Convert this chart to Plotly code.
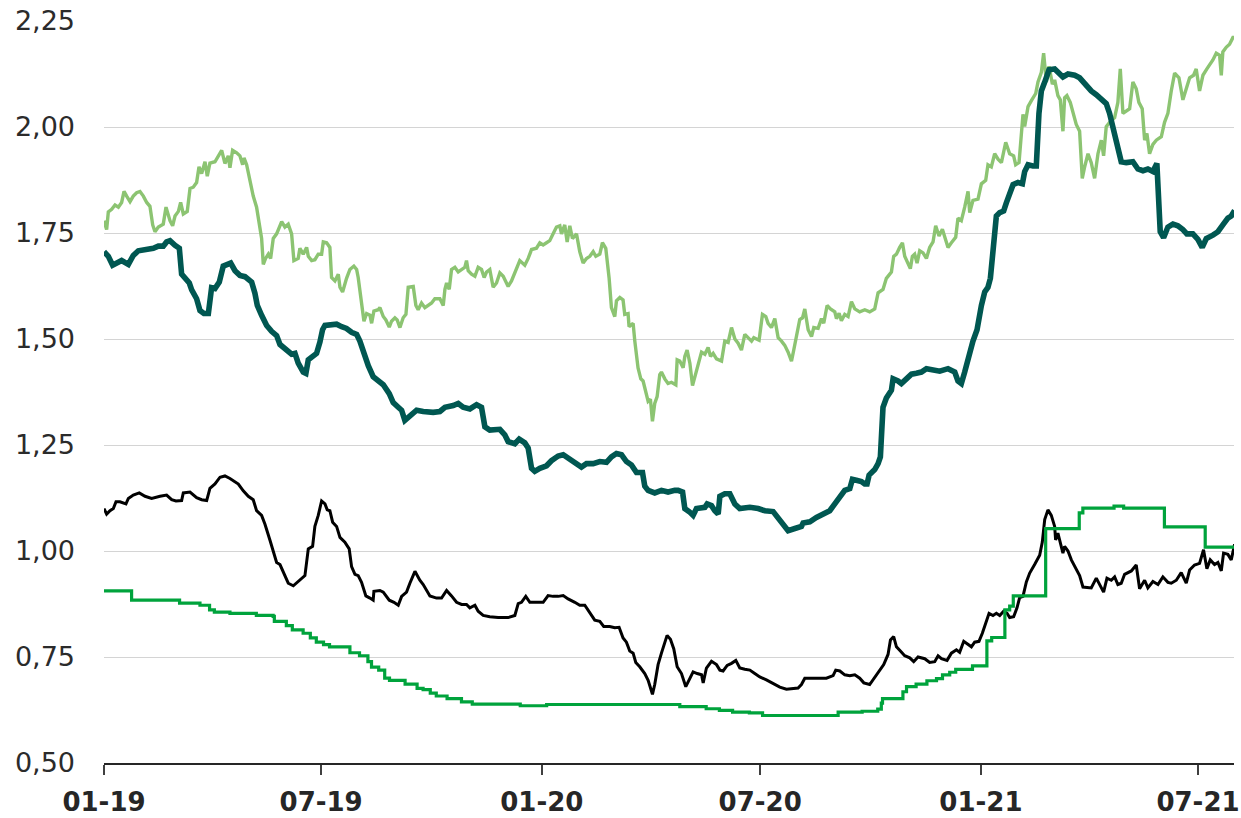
import pandas as pd
import plotly.graph_objects as go

START = pd.Timestamp("2019-01-01")

# (days since 01-01-2019, value)
light_green = [
    (0, 1.779), (2.2, 1.758), (3.6, 1.800), (6.4, 1.806), (9.2, 1.816), (12.0, 1.811),
    (14.7, 1.822), (16.7, 1.848), (18.9, 1.837), (21.7, 1.824), (24.4, 1.837), (27.2, 1.845),
    (30.0, 1.848), (32.8, 1.837), (35.6, 1.822), (38.3, 1.813), (40.6, 1.769), (42.5, 1.753),
    (45.3, 1.764), (49.4, 1.771), (51.7, 1.811), (55.0, 1.779), (57.2, 1.767), (59.2, 1.790),
    (62.0, 1.801), (63.9, 1.822), (66.1, 1.795), (69.4, 1.801), (71.7, 1.855), (74.4, 1.858),
    (77.2, 1.869), (79.2, 1.906), (81.4, 1.890), (84.2, 1.918), (86.1, 1.884), (88.3, 1.915),
    (92.5, 1.918), (95.3, 1.932), (98.1, 1.945), (100.8, 1.914), (103.6, 1.932), (105.0, 1.904),
    (107.2, 1.945), (110.6, 1.939), (113.3, 1.932), (115.6, 1.911), (116.7, 1.927), (118.9, 1.911),
    (121.1, 1.879), (124.4, 1.837), (127.2, 1.811), (129.4, 1.769), (131.4, 1.737), (132.8, 1.676),
    (134.7, 1.690), (137.0, 1.700), (138.9, 1.690), (141.1, 1.737), (143.9, 1.748), (148.1, 1.777),
    (150.8, 1.764), (153.6, 1.771), (156.4, 1.748), (158.3, 1.685), (161.9, 1.690), (163.3, 1.714),
    (166.1, 1.700), (168.9, 1.716), (170.3, 1.695), (173.1, 1.685), (175.8, 1.687), (178.6, 1.700),
    (181.4, 1.700), (182.8, 1.729), (185.6, 1.727), (188.3, 1.716), (189.7, 1.645), (192.5, 1.637),
    (195.3, 1.653), (196.7, 1.622), (198.9, 1.611), (202.2, 1.643), (205.0, 1.664), (208.3, 1.672),
    (210.6, 1.664), (211.9, 1.645), (214.7, 1.579), (216.7, 1.542), (218.9, 1.560), (221.7, 1.556),
    (223.1, 1.537), (225.0, 1.566), (228.6, 1.569), (230.0, 1.574), (232.8, 1.553), (235.0, 1.545),
    (237.8, 1.528), (239.7, 1.542), (242.5, 1.550), (244.4, 1.545), (246.7, 1.527), (249.4, 1.550),
    (251.7, 1.558), (253.6, 1.622), (257.8, 1.624), (260.0, 1.579), (261.9, 1.569), (264.7, 1.585),
    (267.5, 1.574), (270.3, 1.579), (273.1, 1.585), (275.8, 1.595), (280.0, 1.595), (282.8, 1.579),
    (284.2, 1.617), (285.6, 1.632), (287.8, 1.617), (289.7, 1.664), (292.5, 1.669), (295.3, 1.658),
    (298.1, 1.664), (300.8, 1.669), (302.2, 1.685), (303.6, 1.661), (306.4, 1.653), (309.2, 1.648),
    (311.9, 1.669), (314.7, 1.664), (316.9, 1.645), (318.9, 1.658), (321.6, 1.664), (324.4, 1.622),
    (327.2, 1.632), (330.0, 1.656), (332.8, 1.648), (336.9, 1.624), (339.7, 1.637), (342.5, 1.658),
    (345.3, 1.674), (346.6, 1.685), (350.8, 1.674), (353.6, 1.690), (356.4, 1.711), (360.5, 1.714),
    (363.3, 1.727), (366.1, 1.722), (368.9, 1.727), (371.6, 1.732), (374.4, 1.748), (377.2, 1.764),
    (380.0, 1.767), (381.4, 1.748), (384.1, 1.769), (386.1, 1.729), (388.3, 1.767), (390.5, 1.737),
    (393.9, 1.748), (396.6, 1.706), (399.4, 1.679), (402.2, 1.690), (405.0, 1.695), (407.8, 1.706),
    (410.0, 1.695), (413.3, 1.700), (415.5, 1.727), (418.3, 1.714), (421.1, 1.643), (423.0, 1.574),
    (425.8, 1.553), (427.2, 1.590), (430.0, 1.598), (432.7, 1.592), (434.1, 1.558), (436.9, 1.560),
    (437.7, 1.529), (441.1, 1.537), (442.5, 1.495), (445.2, 1.432), (447.5, 1.406), (449.4, 1.401),
    (450.8, 1.385), (453.6, 1.353), (455.5, 1.358), (457.2, 1.306), (459.1, 1.348), (461.1, 1.364),
    (463.3, 1.416), (464.7, 1.422), (467.5, 1.406), (470.2, 1.395), (473.0, 1.398), (476.7, 1.392),
    (477.8, 1.451), (480.0, 1.448), (482.8, 1.432), (484.2, 1.459), (486.1, 1.474), (488.4, 1.443),
    (490.6, 1.390), (492.5, 1.411), (495.3, 1.437), (498.1, 1.469), (500.9, 1.464), (503.6, 1.480),
    (505.6, 1.459), (507.8, 1.466), (510.6, 1.453), (514.8, 1.448), (517.5, 1.495), (520.3, 1.492),
    (523.1, 1.527), (525.9, 1.500), (528.6, 1.490), (531.4, 1.474), (534.2, 1.511), (537.0, 1.503),
    (539.8, 1.495), (541.7, 1.503), (546.1, 1.497), (548.9, 1.558), (551.7, 1.553), (553.6, 1.537),
    (556.4, 1.527), (559.2, 1.548), (562.0, 1.503), (564.8, 1.495), (567.5, 1.485), (570.3, 1.469),
    (573.1, 1.448), (575.0, 1.474), (577.8, 1.516), (580.0, 1.546), (582.3, 1.550), (584.2, 1.571),
    (587.0, 1.522), (589.8, 1.506), (591.7, 1.527), (595.3, 1.525), (598.1, 1.548), (600.0, 1.537),
    (602.8, 1.579), (605.6, 1.571), (609.2, 1.564), (610.6, 1.548), (612.8, 1.561), (614.7, 1.543),
    (617.5, 1.558), (620.3, 1.553), (623.1, 1.588), (625.9, 1.571), (630.0, 1.564), (634.2, 1.569),
    (638.3, 1.564), (642.5, 1.571), (645.3, 1.609), (649.4, 1.617), (652.2, 1.643), (656.4, 1.658),
    (658.3, 1.695), (660.6, 1.700), (663.3, 1.716), (665.6, 1.727), (667.5, 1.695), (670.3, 1.677),
    (672.2, 1.666), (673.9, 1.695), (675.8, 1.700), (677.8, 1.679), (680.0, 1.708), (682.8, 1.703),
    (685.6, 1.690), (688.3, 1.716), (691.1, 1.729), (693.3, 1.767), (696.1, 1.743), (698.9, 1.759),
    (701.7, 1.732), (703.6, 1.716), (706.4, 1.727), (710.0, 1.740), (711.9, 1.785), (714.7, 1.779),
    (717.5, 1.811), (720.3, 1.848), (721.7, 1.798), (724.4, 1.827), (728.6, 1.830), (731.4, 1.866),
    (735.0, 1.874), (736.9, 1.911), (739.7, 1.906), (742.5, 1.937), (745.3, 1.924), (748.1, 1.916),
    (751.7, 1.964), (755.0, 1.937), (758.3, 1.932), (760.0, 1.911), (762.8, 1.916), (766.1, 2.030),
    (767.5, 2.001), (770.3, 2.048), (773.1, 2.062), (776.7, 2.079), (778.6, 2.106), (781.4, 2.129),
    (783.3, 2.174), (785.6, 2.106), (787.8, 2.143), (790.6, 2.101), (792.5, 2.111), (795.2, 2.074),
    (797.2, 2.064), (799.4, 1.990), (800.8, 2.069), (802.7, 2.074), (805.5, 2.058), (807.7, 2.032),
    (810.5, 2.006), (813.3, 1.990), (815.5, 1.879), (817.5, 1.906), (820.3, 1.937), (823.0, 1.916),
    (825.8, 1.879), (828.6, 1.937), (831.4, 1.969), (833.3, 1.932), (835.5, 2.001), (838.3, 2.011),
    (842.5, 2.022), (845.2, 2.058), (847.2, 2.137), (849.4, 2.032), (852.2, 2.037), (855.0, 2.043),
    (857.7, 2.106), (860.5, 2.090), (862.7, 2.058), (865.5, 2.043), (867.5, 1.969), (869.4, 1.985),
    (871.6, 1.937), (874.4, 1.959), (877.2, 1.969), (881.4, 1.977), (884.1, 2.011), (886.9, 2.032),
    (889.7, 2.085), (892.5, 2.127), (896.1, 2.116), (899.4, 2.064), (902.2, 2.090), (905.0, 2.116),
    (908.3, 2.122), (910.5, 2.137), (913.3, 2.085), (916.1, 2.122), (919.4, 2.137), (922.2, 2.148),
    (924.4, 2.158), (927.2, 2.174), (930.0, 2.169), (931.4, 2.122), (932.7, 2.177), (935.5, 2.188),
    (938.3, 2.195), (941.1, 2.211), (942.5, 2.211),
]

dark_teal = [
    (0, 1.706), (3.6, 1.695), (7.2, 1.674), (12.0, 1.682), (14.7, 1.685), (20.3, 1.676),
    (24.4, 1.697), (28.6, 1.708), (35.6, 1.711), (41.1, 1.714), (45.3, 1.719), (49.4, 1.719),
    (52.2, 1.729), (55.0, 1.732), (59.2, 1.721), (62.8, 1.714), (64.7, 1.653), (67.5, 1.645),
    (71.1, 1.632), (73.1, 1.616), (77.2, 1.595), (80.0, 1.567), (83.3, 1.560), (87.0, 1.560),
    (89.7, 1.621), (92.5, 1.619), (96.1, 1.634), (99.4, 1.672), (102.2, 1.676), (105.6, 1.679),
    (109.2, 1.661), (113.3, 1.650), (117.5, 1.647), (123.1, 1.634), (125.8, 1.608), (127.8, 1.579),
    (131.4, 1.556), (135.6, 1.532), (139.7, 1.518), (143.9, 1.508), (146.7, 1.487), (152.2, 1.476),
    (156.4, 1.464), (159.2, 1.466), (161.9, 1.443), (166.1, 1.422), (168.3, 1.419), (170.3, 1.451),
    (174.4, 1.459), (177.2, 1.466), (180.0, 1.493), (182.2, 1.522), (184.2, 1.532), (188.3, 1.532),
    (193.9, 1.535), (198.1, 1.529), (202.2, 1.525), (206.4, 1.516), (210.6, 1.511), (213.3, 1.495),
    (216.7, 1.464), (220.3, 1.437), (224.4, 1.411), (227.8, 1.402), (232.8, 1.392), (237.8, 1.371),
    (241.1, 1.350), (245.3, 1.339), (248.1, 1.332), (250.8, 1.308), (253.6, 1.314), (257.8, 1.322),
    (260.6, 1.332), (266.1, 1.329), (274.4, 1.327), (280.0, 1.329), (284.2, 1.339), (291.1, 1.343),
    (295.3, 1.348), (299.4, 1.339), (305.0, 1.335), (310.6, 1.345), (314.7, 1.339), (316.1, 1.316),
    (317.5, 1.293), (321.6, 1.285), (325.8, 1.287), (330.0, 1.287), (334.1, 1.274), (336.9, 1.258),
    (342.5, 1.253), (346.1, 1.264), (350.8, 1.255), (353.6, 1.243), (356.4, 1.195), (359.1, 1.188),
    (363.3, 1.195), (368.9, 1.201), (373.0, 1.213), (378.6, 1.224), (382.8, 1.227), (388.3, 1.216),
    (393.9, 1.206), (398.0, 1.198), (402.2, 1.206), (407.8, 1.206), (413.3, 1.211), (418.9, 1.209),
    (423.0, 1.222), (427.2, 1.230), (431.4, 1.227), (435.5, 1.211), (439.7, 1.203), (443.9, 1.185),
    (448.9, 1.185), (450.8, 1.153), (453.6, 1.143), (459.1, 1.137), (464.7, 1.143), (470.2, 1.139),
    (475.8, 1.143), (478.6, 1.143), (482.3, 1.139), (484.2, 1.100), (487.8, 1.093), (491.1, 1.084),
    (493.9, 1.100), (498.1, 1.103), (500.9, 1.103), (502.8, 1.111), (506.4, 1.107), (509.2, 1.095),
    (512.0, 1.087), (513.4, 1.129), (517.5, 1.135), (521.7, 1.135), (525.9, 1.111), (530.0, 1.100),
    (538.4, 1.103), (545.3, 1.100), (550.9, 1.095), (557.8, 1.093), (562.0, 1.079), (566.1, 1.064),
    (570.3, 1.048), (575.9, 1.053), (581.4, 1.058), (582.8, 1.066), (588.4, 1.069), (593.9, 1.079),
    (599.5, 1.087), (605.0, 1.095), (609.2, 1.111), (613.4, 1.129), (617.5, 1.143), (621.7, 1.147),
    (623.9, 1.169), (627.2, 1.167), (631.4, 1.164), (634.2, 1.158), (636.1, 1.158), (637.8, 1.179),
    (642.5, 1.192), (645.3, 1.206), (647.2, 1.222), (649.4, 1.339), (652.2, 1.361), (656.4, 1.379),
    (657.8, 1.406), (661.9, 1.401), (664.7, 1.395), (668.9, 1.406), (673.1, 1.417), (677.2, 1.419),
    (681.4, 1.422), (685.6, 1.430), (689.7, 1.427), (696.7, 1.424), (703.6, 1.430), (709.2, 1.422),
    (711.9, 1.401), (714.7, 1.395), (717.5, 1.422), (720.3, 1.453), (724.4, 1.495), (727.8, 1.522),
    (729.4, 1.558), (731.4, 1.579), (734.2, 1.611), (736.9, 1.622), (738.9, 1.643), (741.1, 1.706),
    (743.9, 1.790), (746.7, 1.798), (750.0, 1.802), (752.2, 1.821), (755.0, 1.848), (757.8, 1.864),
    (761.9, 1.869), (765.6, 1.866), (767.5, 1.895), (770.3, 1.911), (774.4, 1.908), (777.2, 1.908),
    (779.4, 2.032), (781.4, 2.085), (784.2, 2.106), (787.8, 2.135), (792.5, 2.137), (795.2, 2.129),
    (799.4, 2.118), (803.6, 2.125), (809.2, 2.122), (813.3, 2.116), (817.5, 2.101), (823.0, 2.085),
    (827.2, 2.076), (831.4, 2.064), (835.5, 2.055), (838.3, 2.032), (842.5, 1.979), (845.2, 1.953),
    (848.0, 1.918), (852.2, 1.916), (857.7, 1.918), (861.9, 1.901), (866.1, 1.897), (870.2, 1.901),
    (874.4, 1.895), (877.7, 1.914), (879.4, 1.832), (880.5, 1.753), (883.3, 1.739), (886.9, 1.764),
    (891.1, 1.771), (895.2, 1.767), (899.4, 1.758), (902.7, 1.748), (907.7, 1.748), (911.9, 1.735),
    (915.5, 1.716), (918.9, 1.737), (924.4, 1.745), (928.6, 1.753), (932.7, 1.769), (936.9, 1.785),
    (939.7, 1.790), (942.5, 1.803),
]

black = [
    (0, 1.100), (2.2, 1.087), (5.0, 1.095), (7.8, 1.100), (10.0, 1.116), (13.3, 1.116),
    (18.3, 1.111), (20.3, 1.124), (24.4, 1.132), (29.4, 1.137), (34.2, 1.129), (39.7, 1.124),
    (46.7, 1.129), (52.2, 1.132), (56.4, 1.121), (60.0, 1.118), (64.7, 1.119), (66.1, 1.137),
    (71.7, 1.139), (77.2, 1.126), (81.4, 1.121), (85.6, 1.119), (88.3, 1.148), (92.5, 1.158),
    (96.7, 1.174), (100.8, 1.177), (105.0, 1.171), (109.2, 1.163), (112.0, 1.158), (116.1, 1.142),
    (120.3, 1.129), (124.4, 1.121), (127.2, 1.095), (131.4, 1.084), (134.2, 1.063), (138.3, 1.026),
    (141.1, 1.000), (143.9, 0.973), (146.7, 0.968), (150.8, 0.942), (153.6, 0.924), (157.8, 0.918),
    (161.9, 0.928), (167.5, 0.942), (170.3, 1.005), (173.9, 1.011), (175.8, 1.058), (178.6, 1.084),
    (181.4, 1.118), (184.2, 1.111), (186.1, 1.097), (188.3, 1.095), (190.6, 1.068), (193.9, 1.058),
    (196.7, 1.032), (200.8, 1.021), (204.4, 1.005), (206.4, 0.963), (209.2, 0.945), (211.9, 0.942),
    (214.7, 0.926), (218.3, 0.894), (221.7, 0.889), (224.4, 0.884), (225.0, 0.905), (230.0, 0.907),
    (232.8, 0.903), (237.8, 0.884), (241.7, 0.879), (245.3, 0.872), (248.1, 0.893), (252.2, 0.903),
    (255.0, 0.924), (259.2, 0.952), (263.3, 0.931), (266.1, 0.921), (271.7, 0.894), (277.2, 0.889),
    (281.4, 0.889), (285.6, 0.907), (289.7, 0.894), (293.9, 0.879), (298.1, 0.874), (302.2, 0.874),
    (305.0, 0.866), (309.2, 0.872), (311.9, 0.858), (316.1, 0.848), (321.6, 0.845), (328.6, 0.843),
    (336.9, 0.843), (342.5, 0.848), (345.3, 0.876), (348.0, 0.879), (351.6, 0.893), (355.0, 0.879),
    (366.1, 0.879), (370.2, 0.895), (374.4, 0.893), (378.6, 0.893), (382.8, 0.895), (386.9, 0.887),
    (392.5, 0.879), (396.6, 0.872), (400.8, 0.872), (405.0, 0.853), (409.1, 0.837), (413.3, 0.834),
    (416.6, 0.822), (421.6, 0.822), (425.8, 0.819), (429.4, 0.820), (432.7, 0.795), (435.5, 0.785),
    (438.3, 0.764), (441.1, 0.759), (443.3, 0.737), (446.6, 0.727), (450.8, 0.711), (453.6, 0.695),
    (455.5, 0.674), (457.2, 0.662), (459.1, 0.685), (461.9, 0.732), (464.7, 0.759), (467.5, 0.785),
    (469.4, 0.801), (472.2, 0.792), (475.0, 0.769), (477.8, 0.727), (481.4, 0.711), (485.0, 0.680),
    (487.8, 0.698), (491.1, 0.715), (494.5, 0.711), (498.1, 0.708), (499.5, 0.689), (502.2, 0.724),
    (506.4, 0.740), (510.6, 0.732), (513.4, 0.719), (516.1, 0.717), (519.5, 0.730), (523.1, 0.735),
    (526.7, 0.742), (530.0, 0.724), (534.2, 0.721), (538.4, 0.719), (542.5, 0.711), (546.7, 0.703),
    (552.2, 0.696), (557.8, 0.687), (563.4, 0.679), (568.9, 0.674), (574.5, 0.675), (578.6, 0.677),
    (581.4, 0.685), (584.2, 0.700), (589.8, 0.700), (596.7, 0.700), (602.2, 0.700), (607.8, 0.706),
    (610.0, 0.719), (613.4, 0.717), (617.5, 0.708), (621.7, 0.706), (625.9, 0.708), (630.0, 0.700),
    (633.4, 0.689), (638.3, 0.685), (642.5, 0.701), (647.2, 0.719), (650.0, 0.732), (653.6, 0.756),
    (655.6, 0.790), (658.3, 0.798), (660.6, 0.774), (663.9, 0.764), (667.5, 0.753), (671.7, 0.748),
    (675.0, 0.739), (678.6, 0.750), (684.2, 0.746), (688.3, 0.737), (692.5, 0.739), (695.3, 0.753),
    (698.1, 0.746), (702.8, 0.742), (706.4, 0.759), (710.6, 0.767), (713.3, 0.761), (716.7, 0.787),
    (720.3, 0.779), (723.1, 0.774), (725.8, 0.785), (729.4, 0.787), (732.2, 0.806), (735.0, 0.830),
    (737.8, 0.853), (741.1, 0.848), (743.9, 0.853), (746.7, 0.848), (750.0, 0.858), (752.8, 0.853),
    (755.0, 0.843), (758.3, 0.845), (761.1, 0.866), (763.3, 0.890), (766.1, 0.893), (768.9, 0.927),
    (771.7, 0.948), (775.8, 0.968), (780.0, 0.990), (782.2, 1.021), (784.2, 1.074), (786.9, 1.097),
    (789.7, 1.084), (792.5, 1.058), (793.3, 1.026), (795.2, 1.042), (797.2, 1.016), (799.4, 0.995),
    (800.8, 1.011), (803.6, 1.000), (806.4, 0.979), (810.0, 0.958), (813.3, 0.942), (816.1, 0.915),
    (820.3, 0.913), (823.0, 0.913), (827.2, 0.936), (830.0, 0.921), (833.3, 0.903), (836.1, 0.936),
    (839.7, 0.931), (842.5, 0.939), (845.2, 0.921), (848.0, 0.924), (850.8, 0.945), (856.4, 0.953),
    (860.5, 0.967), (863.3, 0.911), (867.5, 0.931), (870.2, 0.913), (874.4, 0.928), (878.6, 0.921),
    (882.7, 0.939), (886.9, 0.926), (889.7, 0.924), (893.9, 0.931), (898.0, 0.949), (902.2, 0.924),
    (905.0, 0.955), (909.1, 0.967), (913.3, 0.971), (916.6, 1.003), (919.4, 0.958), (922.2, 0.979),
    (925.8, 0.968), (928.6, 0.973), (931.4, 0.953), (933.3, 0.995), (936.9, 0.992), (939.7, 0.979),
    (942.5, 1.016),
]

# step series
green = [
    (0, 0.906), (23, 0.884), (63, 0.877), (80, 0.872), (88, 0.861), (92, 0.856), (105, 0.853),
    (127, 0.848), (141, 0.846), (142, 0.834), (152, 0.824), (157, 0.814), (166, 0.806),
    (172, 0.795), (177, 0.785), (183, 0.779), (188, 0.774), (205, 0.760), (213, 0.753),
    (220, 0.739), (223, 0.726), (229, 0.719), (234, 0.700), (238, 0.695), (251, 0.686),
    (261, 0.676), (266, 0.673), (272, 0.665), (277, 0.658), (286, 0.652), (298, 0.644),
    (307, 0.639), (347, 0.635), (369, 0.638), (480, 0.633), (502, 0.628), (513, 0.624),
    (524, 0.620), (538, 0.618), (549, 0.612), (612, 0.620), (632, 0.622), (645, 0.627),
    (648, 0.641), (649, 0.652), (666, 0.668), (669, 0.680), (677, 0.686), (686, 0.694),
    (694, 0.699), (699, 0.708), (705, 0.714), (710, 0.721), (724, 0.729), (736, 0.788),
    (740, 0.796), (751, 0.861), (755, 0.870), (758, 0.894), (785, 1.053), (813, 1.090),
    (816, 1.101), (842, 1.106), (850, 1.101), (884, 1.057), (918, 1.009), (942.5, 1.009),
]

y_ticks = [0.5, 0.75, 1.0, 1.25, 1.5, 1.75, 2.0, 2.25]

FONT = "DejaVu Sans, Arial, sans-serif"


def to_xy(points):
    days, vals = zip(*points)
    dates = START + pd.to_timedelta(list(days), unit="D")
    return dates, list(vals)


fig = go.Figure()

series = [
    (light_green, "#8cc472", 3.4, "linear"),
    (dark_teal, "#005751", 5.6, "linear"),
    (black, "#000000", 3.0, "linear"),
    (green, "#00a33c", 3.2, "hv"),
]
for pts, color, width, shape in series:
    x, y = to_xy(pts)
    fig.add_trace(go.Scatter(
        x=x, y=y, mode="lines",
        line=dict(color=color, width=width, shape=shape),
        showlegend=False, hoverinfo="skip",
    ))

fig.update_layout(
    width=1241, height=818, autosize=False,
    margin=dict(l=104, r=7, t=21, b=55),
    paper_bgcolor="white", plot_bgcolor="white",
    separators=",.",
    font=dict(family=FONT, color="#2b2b2b"),
)
fig.update_xaxes(
    type="date", automargin=False,
    range=["2019-01-01", "2021-07-31"],
    tick0="2019-01-01", dtick="M6", tickformat="%m-%y",
    showgrid=False, zeroline=False,
    showline=True, linecolor="#262626", linewidth=2,
    ticks="outside", ticklen=10, tickwidth=1.5, tickcolor="#404040",
    ticklabelstandoff=5, ticklabeloverflow="allow",
    tickfont=dict(size=26, family=FONT, weight="bold", color="#262626"),
)
fig.update_yaxes(
    range=[0.5, 2.25], automargin=False,
    tickvals=y_ticks, tickformat=".2f",
    showgrid=True, gridcolor="#d4d4d4", gridwidth=1,
    zeroline=False, showline=False, ticks="",
    ticklabelstandoff=28,
    tickfont=dict(size=27, family=FONT, color="#2b2b2b"),
)

fig.write_html(
    "out.html",
    config={"displayModeBar": False},
    post_script="document.body.style.margin='0';",
)
